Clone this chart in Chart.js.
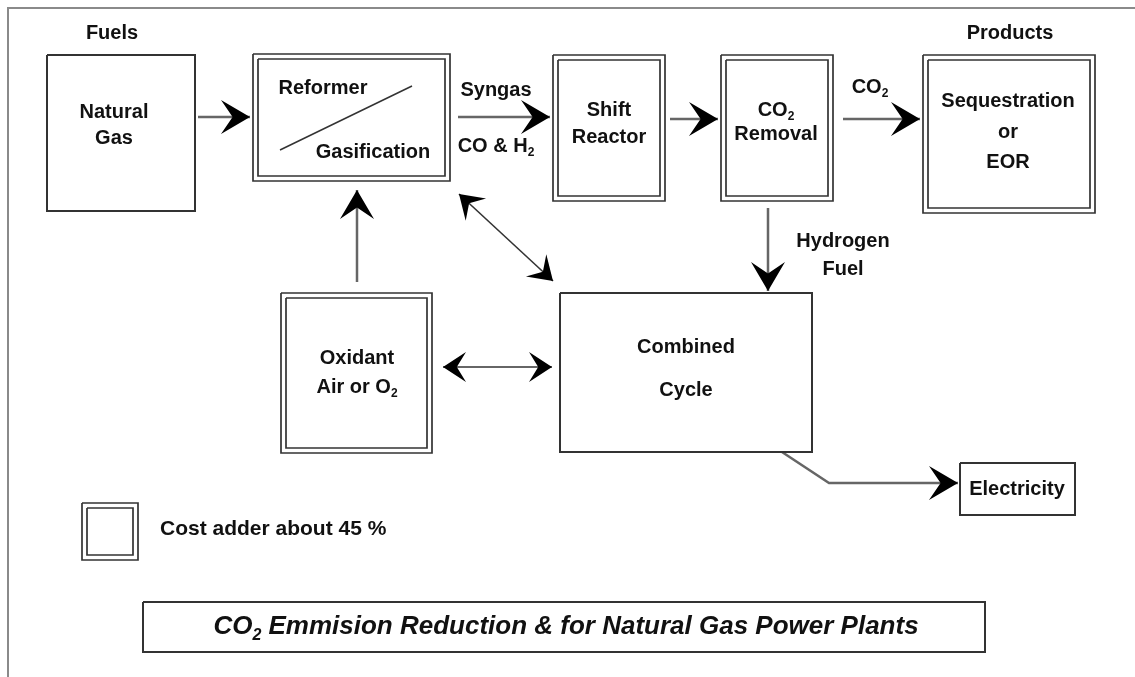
<html>
<head>
<meta charset="UTF-8">
<script src="https://cdn.jsdelivr.net/npm/chart.js@4/dist/chart.umd.min.js"></script>
<style>
body{margin:0;background:#fff;}
canvas{display:block;}
</style>
</head>
<body>
<canvas id="flow" width="1135" height="677"></canvas>

<script>
// boxes of the flow sheet (diagram units = pixels of the 1135x677 sheet)
var nodeNames  = ['Natural Gas','Reformer/Gasification','Shift Reactor','CO2 Removal','Sequestration or EOR','Oxidant','Combined Cycle','Electricity','Legend','Title'];
var nodeLeft   = [47, 253, 553, 721, 923, 281, 560, 960, 82, 143];
var nodeTop    = [55, 54, 55, 55, 55, 293, 293, 463, 503, 602];
var nodeRight  = [195, 450, 665, 833, 1095, 432, 812, 1075, 138, 985];
var nodeBottom = [211, 181, 201, 201, 213, 453, 452, 515, 560, 652];
var nodeDouble = [false, true, true, true, true, true, false, false, true, false];

// connectors: list of [x,y] points, head at start / end
var linkPoints = [
	[[198,117],[250,117]],
	[[458,117],[550,117]],
	[[670,119],[718,119]],
	[[843,119],[920,119]],
	[[768,208],[768,291]],
	[[357,282],[357,190]],
	[[459,194],[553,281]],
	[[443,367],[552,367]],
	[[782,452],[829,483],[958,483]]
];
var linkHeadStart = [false,false,false,false,false,false,true,true,false];
var linkHeadEnd   = [true,true,true,true,true,true,true,true,true];
var linkHeadBig   = [true,true,true,true,true,true,false,false,true];

// texts; {2} means subscript 2
var labelText = ['Fuels','Products','Natural','Gas','Reformer','Gasification','Syngas','CO & H{2}',
	'Shift','Reactor','CO{2}','Removal','CO{2}','Sequestration','or','EOR','Hydrogen','Fuel',
	'Oxidant','Air or O{2}','Combined','Cycle','Electricity','Cost adder about 45 %',
	'CO{2} Emmision Reduction & for Natural Gas Power Plants'];
var labelX = [112,1010,114,114,323,373,496,496,609,609,776,776,870,1008,1008,1008,843,843,357,357,686,686,1017,160,566];
var labelY = [33,33,112,138,88,152,90,146,110,137,110,134,87,101,132,162,241,269,358,387,347,390,489,529,627];
var labelAlign = ['center','center','center','center','center','center','center','center','center','center','center','center','center','center','center','center','center','center','center','center','center','center','center','left','center'];
var labelSize  = [20,20,20,20,20,20,20,20,20,20,20,20,20,20,20,20,20,20,20,20,20,20,20,21,26];
var labelItalic = [false,false,false,false,false,false,false,false,false,false,false,false,false,false,false,false,false,false,false,false,false,false,false,false,true];

// the slash inside the reformer box
var slashPoints = [[280,150],[412,86]];

var datasets = [];
function rectPts(l,t,r,b){ return [{x:l,y:t},{x:r,y:t},{x:r,y:b},{x:l,y:b},{x:l,y:t}]; }

// sheet frame
datasets.push({data:[{x:8,y:677},{x:8,y:8},{x:1135,y:8}], borderColor:'#8a8a8a', borderWidth:2});

for (var i=0; i<nodeNames.length; i++) {
	datasets.push({label:nodeNames[i], data:rectPts(nodeLeft[i],nodeTop[i],nodeRight[i],nodeBottom[i]),
		borderColor:'#333', borderWidth:nodeDouble[i]?1.7:2});
	if (nodeDouble[i])
		datasets.push({label:nodeNames[i]+' inner', data:rectPts(nodeLeft[i]+5,nodeTop[i]+5,nodeRight[i]-5,nodeBottom[i]-5),
			borderColor:'#333', borderWidth:1.7});
}
for (var i=0; i<linkPoints.length; i++) {
	datasets.push({label:'link'+i, data:linkPoints[i].map(function(p){return {x:p[0],y:p[1]};}),
		borderColor:linkHeadBig[i]?'#666':'#333', borderWidth:linkHeadBig[i]?2.5:1.6});
}
datasets.push({label:'slash', data:slashPoints.map(function(p){return {x:p[0],y:p[1]};}), borderColor:'#333', borderWidth:1.5});

function drawHead(ctx, x1, y1, x2, y2, big) {
	// stealth head with tip at (x2,y2)
	var L = big ? 29 : 23, W = big ? 17 : 15, N = 0.6;
	var a = Math.atan2(y2-y1, x2-x1);
	ctx.save();
	ctx.translate(x2, y2);
	ctx.rotate(a);
	ctx.beginPath();
	ctx.moveTo(0,0);
	ctx.lineTo(-L, -W);
	ctx.lineTo(-L*N, 0);
	ctx.lineTo(-L, W);
	ctx.closePath();
	ctx.fillStyle = '#000';
	ctx.fill();
	ctx.restore();
}

function drawRich(ctx, txt, x, y, size, align, italic) {
	var base = (italic ? 'italic ' : '') + 'bold ' + size + 'px "Liberation Sans", Arial, sans-serif';
	var sub  = (italic ? 'italic ' : '') + 'bold ' + Math.round(size*0.62) + 'px "Liberation Sans", Arial, sans-serif';
	var parts = txt.split(/(\{2\})/).filter(function(s){return s!=='';});
	var w = 0, widths = [];
	parts.forEach(function(p){
		ctx.font = p==='{2}' ? sub : base;
		var m = ctx.measureText(p==='{2}' ? '2' : p).width;
		widths.push(m); w += m;
	});
	var cx = align==='left' ? x : x - w/2;
	ctx.textAlign = 'left';
	ctx.textBaseline = 'middle';
	parts.forEach(function(p, k){
		if (p==='{2}') { ctx.font = sub; ctx.fillText('2', cx, y + size*0.33); }
		else { ctx.font = base; ctx.fillText(p, cx, y); }
		cx += widths[k];
	});
}

var sheetPlugin = {
	id: 'sheet',
	afterDatasetsDraw: function(chart) {
		var ctx = chart.ctx, xs = chart.scales.x, ys = chart.scales.y;
		for (var i=0; i<linkPoints.length; i++) {
			var p = linkPoints[i], n = p.length;
			if (linkHeadEnd[i])
				drawHead(ctx, xs.getPixelForValue(p[n-2][0]), ys.getPixelForValue(p[n-2][1]),
					xs.getPixelForValue(p[n-1][0]), ys.getPixelForValue(p[n-1][1]), linkHeadBig[i]);
			if (linkHeadStart[i])
				drawHead(ctx, xs.getPixelForValue(p[1][0]), ys.getPixelForValue(p[1][1]),
					xs.getPixelForValue(p[0][0]), ys.getPixelForValue(p[0][1]), linkHeadBig[i]);
		}
		ctx.save();
		ctx.fillStyle = '#111';
		for (var i=0; i<labelText.length; i++) {
			drawRich(ctx, labelText[i], xs.getPixelForValue(labelX[i]), ys.getPixelForValue(labelY[i]),
				labelSize[i], labelAlign[i], labelItalic[i]);
		}
		ctx.restore();
	}
};

new Chart(document.getElementById('flow').getContext('2d'), {
	type: 'scatter',
	data: {datasets: datasets},
	options: {
		responsive: false,
		animation: false,
		events: [],
		showLine: true,
		elements: {point: {radius: 0}, line: {tension: 0, fill: false}},
		layout: {padding: 0},
		scales: {
			x: {type:'linear', min:0, max:1135, display:false},
			y: {type:'linear', min:0, max:677, reverse:true, display:false}
		},
		plugins: {legend:{display:false}, tooltip:{enabled:false}}
	},
	plugins: [sheetPlugin]
});
</script>
</body>
</html>
